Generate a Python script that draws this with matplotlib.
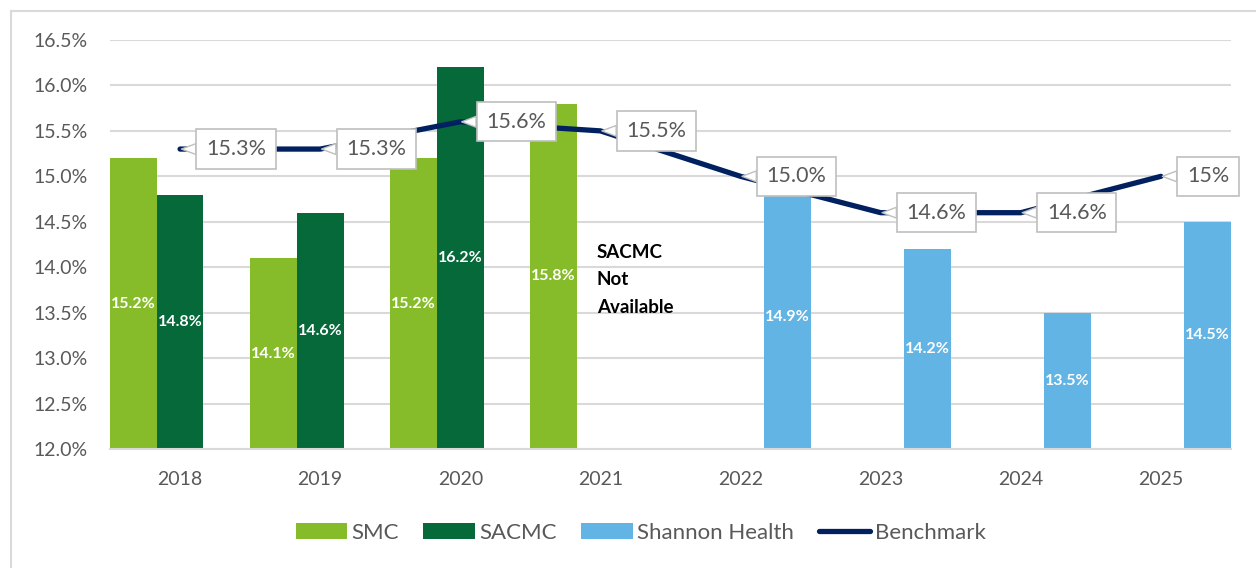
import numpy as np
import matplotlib.pyplot as plt
from matplotlib.patches import Rectangle

plt.rcParams['font.family'] = ['Lato', 'DejaVu Sans']

# datos
years = ['2018', '2019', '2020', '2021', '2022', '2023', '2024', '2025']
smc = [15.2, 14.1, 15.2, 15.8, np.nan, np.nan, np.nan, np.nan]
sacmc = [14.8, 14.6, 16.2, np.nan, np.nan, np.nan, np.nan, np.nan]
shannon = [np.nan, np.nan, np.nan, np.nan, 14.9, 14.2, 13.5, 14.5]
benchmark = [15.3, 15.3, 15.6, 15.5, 15.0, 14.6, 14.6, 15.0]
bench_labels = ['15.3%', '15.3%', '15.6%', '15.5%', '15.0%', '14.6%', '14.6%', '15%']

c_smc = '#86BC29'
c_sacmc = '#05693A'
c_shannon = '#62B4E4'
c_bench = '#002060'
gray = '#595959'

fig = plt.figure(figsize=(12.56, 5.68), dpi=100)
ax = fig.add_axes([110/1256, 1-449/568, (1231-110)/1256, (449-40)/568])

x = np.arange(len(years))
w = 1/3
base = 12.0
handles = []
series = [(smc, -w, c_smc, 'SMC'), (sacmc, 0, c_sacmc, 'SACMC'), (shannon, w, c_shannon, 'Shannon Health')]
for vals, off, col, name in series:
    v = np.array(vals, dtype=float)
    bars = ax.bar(x + off, v - base, bottom=base, width=w, color=col, label=name, zorder=2)
    handles.append(bars)
    for xi, vi in zip(x + off, v):
        if not np.isnan(vi):
            ax.text(xi, (vi + base) / 2, f'{vi:.1f}%', ha='center', va='center',
                    color='white', fontsize=11.5, fontweight='bold', zorder=3)

line, = ax.plot(x, benchmark, color=c_bench, lw=3.8, solid_capstyle='round', label='Benchmark', zorder=4)
handles.append(line)
for xi, yi, lab in zip(x, benchmark, bench_labels):
    ax.annotate(lab, (xi, yi), xytext=(26, 0), textcoords='offset pixels',
                ha='left', va='center', fontsize=15.5, color=gray, zorder=5,
                bbox=dict(boxstyle='square,pad=0.45', fc='white', ec='#BFBFBF', lw=1.2),
                arrowprops=dict(arrowstyle='wedge,tail_width=0.5,shrink_factor=0.5',
                                fc='white', ec='#BFBFBF', lw=1.0, shrinkA=0, shrinkB=1))

ax.text(2.975, 13.86, 'SACMC\nNot\nAvailable', ha='left', va='center', fontsize=13.5,
        fontweight='bold', color='black', linespacing=1.75, zorder=3)

ax.set_xlim(-0.5, len(years) - 0.5)
ax.set_ylim(12.0, 16.5)
ax.set_yticks(np.arange(12.0, 16.51, 0.5))
ax.set_yticklabels([f'{t:.1f}%' for t in np.arange(12.0, 16.51, 0.5)])
ax.set_xticks(x)
ax.set_xticklabels(years)
ax.tick_params(axis='both', length=0, labelsize=14, labelcolor=gray)
ax.tick_params(axis='y', pad=16)
ax.tick_params(axis='x', pad=16)
ax.grid(axis='y', color='#D9D9D9', lw=1.5, zorder=0)
ax.set_axisbelow(True)
for s in ['top', 'right', 'left']:
    ax.spines[s].set_visible(False)
ax.spines['bottom'].set_color('#D9D9D9')
ax.spines['bottom'].set_linewidth(1.5)

fig.legend(handles=handles, labels=['SMC', 'SACMC', 'Shannon Health', 'Benchmark'],
           loc='center', bbox_to_anchor=(0.51, 1-533/568), ncol=4, frameon=False,
           fontsize=16, labelcolor=gray, handlelength=2.3, handleheight=0.72,
           handletextpad=0.22, columnspacing=1.1)

# borde de la figura
fig.add_artist(Rectangle((11/1256, -0.1), 1.2, (568-11)/568 + 0.1, transform=fig.transFigure,
                         fill=False, ec='#D9D9D9', lw=1.5))

fig.savefig('out.png', dpi=100)
